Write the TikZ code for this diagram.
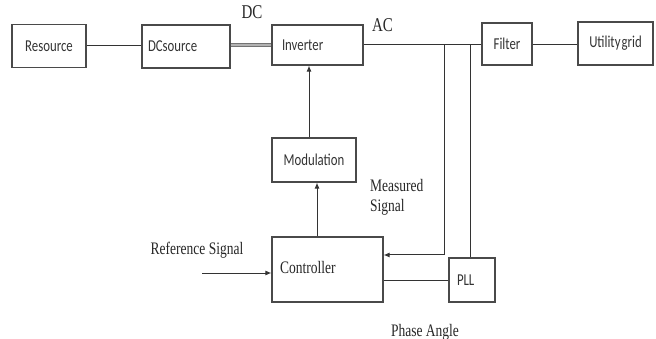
\documentclass[tikz,border=0pt]{standalone}
\usepackage{fontspec}
\usepackage{graphicx}
\setmainfont{Liberation Serif}
\newfontfamily\boxfont{Carlito}
\usetikzlibrary{arrows.meta,calc}
\newcommand\vstr[1]{\scalebox{1}[1.3]{#1}}
\definecolor{edge}{HTML}{4A4A4A}
\definecolor{wire}{HTML}{333333}
\tikzset{
  blk/.style={draw=edge, line width=1.1pt, inner sep=0pt, text=black!80,
    font=\boxfont\fontsize{12.8}{14}\selectfont},
  wire/.style={draw=wire, line width=1pt},
  arr/.style={wire, -{Latex[length=6pt,width=5pt]}},
  lbl/.style={inner sep=0pt, text=black!85, font=\rmfamily\fontsize{13.5}{15}\selectfont},
}
\begin{document}
\begin{tikzpicture}[x=1pt,y=-1pt]
\useasboundingbox (0,0) rectangle (656,339);
% blocks
\node[blk, minimum width=74pt, minimum height=43pt] (res) at (49,46) {\vstr{Resource}};
\node[blk, minimum width=88pt, minimum height=43pt, text width=80pt, inner xsep=4pt, align=left] (dcs) at (186,46.5) {\hspace*{2pt}\vstr{DCsource}};
\node[blk, minimum width=91pt, minimum height=40pt, text width=81pt, inner xsep=5pt, align=left] (inv) at (317.5,45) {\hspace*{5pt}\vstr{Inverter}};
\node[blk, minimum width=50pt, minimum height=42pt] (filt) at (507,44) {\vstr{Filter}};
\node[blk, minimum width=75pt, minimum height=43pt] (grid) at (615.5,43.5) {\raisebox{2pt}{\vstr{Utility\hspace{1pt}grid}}};
\node[blk, minimum width=84pt, minimum height=44pt] (mod) at (314,160) {\vstr{Modulation}};
\node[blk, minimum width=111pt, minimum height=65pt] (ctrl) at (327.5,269.5) {};
\node[lbl, anchor=west] (ctrltxt) at (280,267) {\vstr{Controller}};
\node[blk, minimum width=46pt, minimum height=44pt, text width=40pt, inner xsep=3pt, align=left] (pll) at (472,280) {\hspace*{5pt}\vstr{PLL}};
% junctions
\coordinate (j1) at (444,45);
\coordinate (j2) at (470,45);
\coordinate (m1) at (444,255);
\coordinate (ref) at (202,273);
% connectors
\draw[wire] (res.east) -- (res.east -| dcs.west);
\draw[draw=black!55, line width=4pt] (dcs.east |- 0,45) -- (inv.west);
\draw[draw=black!30, line width=1.6pt] (dcs.east |- 0,45) -- (inv.west);
\draw[wire] (inv.east) -- (inv.east -| filt.west);
\draw[wire] (filt.east |- 0,45) -- (grid.west |- 0,45);
\draw[arr] (j1) -- (m1) -- (m1 -| ctrl.east);
\draw[wire] (j2) -- (j2 |- pll.north);
\draw[wire] (pll.west) -- (pll.west -| ctrl.east);
\draw[arr] ([xshift=-5pt]mod.north) -- ([xshift=-5pt]mod.north |- inv.south);
\draw[arr] ([xshift=-10.5pt]ctrl.north) -- ([xshift=-10.5pt]ctrl.north |- mod.south);
\draw[arr] (ref) -- (ref -| ctrl.west);
% labels
\node[lbl, font=\rmfamily\fontsize{15}{17}\selectfont] (dcl) at (252,12.5) {\vstr{DC}};
\node[lbl, font=\rmfamily\fontsize{15}{17}\selectfont] (acl) at (382.5,25.5) {\vstr{AC}};
\node[lbl, anchor=west] (meas1) at (370,185) {\vstr{Measured}};
\node[lbl, anchor=west] (meas2) at (370,207) {\vstr{Signal}};
\node[lbl] (refl) at (197,250) {\vstr{Reference Signal}};
\node[lbl] (phase) at (425,332) {\vstr{Phase Angle}};
\end{tikzpicture}
\end{document}
